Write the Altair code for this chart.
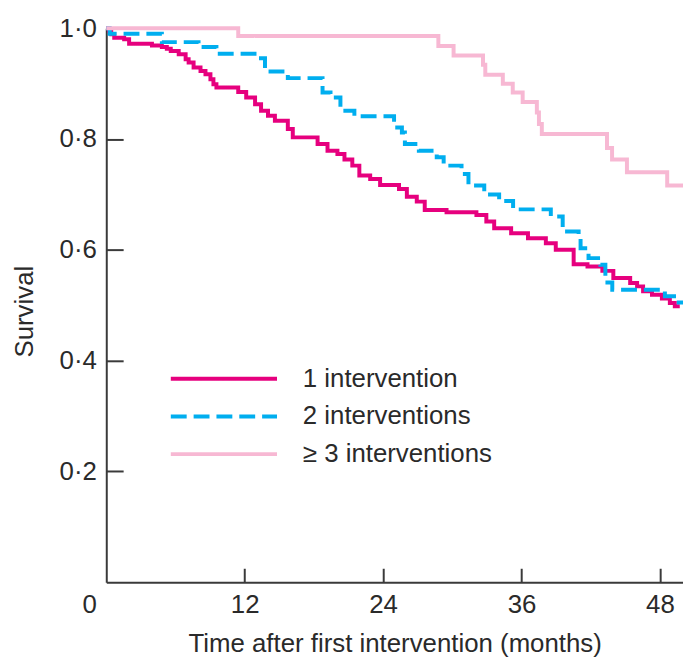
import altair as alt
import pandas as pd

groups = ["1 intervention", "2 interventions", "\u2265 3 interventions"]
colors = ["#E6007E", "#00AEEF", "#F7B8D3"]

# 1 intervention (Kaplan-Meier steps)
t1 = [0, 0.26, 0.43, 0.69, 1.55, 1.98, 3.96, 4.82, 5.25, 5.59, 6.28, 6.88, 7.14, 7.57,
      8.17, 8.60, 9.03, 9.29, 9.55, 11.44, 12.13, 12.90, 13.42, 14.02, 14.62, 15.74,
      16.17, 18.32, 19.18, 20.04, 20.65, 21.33, 21.94, 22.88, 23.74, 25.38, 26.06,
      26.92, 27.61, 29.5, 32.09, 32.95, 33.63, 35.10, 36.56, 38.11, 38.97, 40.52,
      41.72, 43.01, 43.96, 45.42, 46.02, 46.54, 47.31, 48.17, 48.86, 49.29, 49.72]
s1 = [1.0, 0.995, 0.989, 0.983, 0.980, 0.972, 0.969, 0.966, 0.963, 0.959, 0.953, 0.944,
      0.938, 0.929, 0.923, 0.917, 0.908, 0.899, 0.893, 0.885, 0.875, 0.863, 0.851,
      0.842, 0.833, 0.818, 0.803, 0.791, 0.779, 0.773, 0.763, 0.752, 0.734, 0.728,
      0.717, 0.710, 0.696, 0.687, 0.672, 0.668, 0.663, 0.651, 0.639, 0.630, 0.621,
      0.612, 0.600, 0.574, 0.570, 0.562, 0.549, 0.540, 0.534, 0.525, 0.519, 0.512,
      0.504, 0.498, 0.498]

# 2 interventions
t2 = [0, 0.3, 4.82, 8.0, 9.55, 13.16, 13.76, 15.74, 18.75, 19.44, 20.30, 21.51, 24.95,
      25.63, 25.89, 27.10, 28.65, 29.25, 30.80, 31.40, 32.77, 34.06, 35.27, 38.54,
      39.57, 40.95, 41.12, 41.81, 42.84, 43.27, 43.87, 48.43, 49.63, 50.0]
s2 = [1.0, 0.990, 0.975, 0.966, 0.954, 0.946, 0.922, 0.910, 0.884, 0.875, 0.851, 0.841,
      0.821, 0.812, 0.791, 0.779, 0.767, 0.752, 0.737, 0.716, 0.700, 0.688, 0.673,
      0.660, 0.633, 0.621, 0.603, 0.585, 0.573, 0.541, 0.528, 0.516, 0.505, 0.505]

# >= 3 interventions
t3 = [0, 11.44, 28.79, 30.11, 32.66, 32.86, 34.38, 35.24, 36.10, 37.33, 37.51, 37.76,
      43.41, 43.85, 45.14, 48.63, 50.0]
s3 = [1.0, 0.986, 0.968, 0.951, 0.934, 0.916, 0.900, 0.884, 0.867, 0.848, 0.827, 0.809,
      0.784, 0.763, 0.740, 0.716, 0.716]

x_ticks = [12, 24, 36, 48]
x_labels = [0, 12, 24, 36, 48]
y_ticks = [0.2, 0.4, 0.6, 0.8]
y_labels = [0.2, 0.4, 0.6, 0.8, 1.0]

rows = []
for g, ts, ss in zip(groups, [t1, t2, t3], [s1, s2, s3]):
    for t, s in zip(ts, ss):
        rows.append({"group": g, "t": t, "s": s})
df = pd.DataFrame(rows)

W, H = 581, 558
FONT = "Liberation Sans"
FS = 26
TXT = "#2a2a2a"
AX = "#3a3a3a"

xscale = alt.Scale(domain=[0, 50], nice=False, zero=False)
yscale = alt.Scale(domain=[0, 1], nice=False, zero=False)

lines = alt.Chart(df).mark_line(interpolate="step-after", clip=False, strokeCap="butt").encode(
    x=alt.X("t:Q", scale=xscale, axis=alt.Axis(
        values=x_labels, ticks=False, tickSize=0, grid=False,
        domainColor=AX, domainWidth=2,
        labelFont=FONT, labelFontSize=FS, labelColor=TXT, labelPadding=10,
        labelAlign={"condition": {"test": "datum.value == 0", "value": "right"}, "value": "center"},
        labelOffset={"condition": {"test": "datum.value == 0", "value": -10}, "value": 0},
        labelFlush=False, labelOverlap=False,
        title="Time after first intervention (months)", titleFont=FONT, titleFontSize=FS,
        titleFontWeight="normal", titleColor=TXT, titleBaseline="alphabetic", titleY=70)),
    y=alt.Y("s:Q", scale=yscale, axis=alt.Axis(
        values=y_labels, ticks=False, tickSize=0, grid=False,
        domainColor=AX, domainWidth=2,
        labelExpr="replace(format(datum.value, '.1f'), '.', '\u00b7')",
        labelFont=FONT, labelFontSize=FS, labelColor=TXT, labelPadding=10,
        labelFlush=False, labelOverlap=False,
        title="Survival", titleFont=FONT, titleFontSize=FS, titleFontWeight="normal",
        titleColor=TXT, titleBaseline="alphabetic", titleX=-74, titleY=285, titleAngle=-90)),
    color=alt.Color("group:N", scale=alt.Scale(domain=groups, range=colors), sort=groups, title=None),
    strokeDash=alt.StrokeDash("group:N", scale=alt.Scale(domain=groups, range=[[1, 0], [16, 7], [1, 0]]), sort=groups, title=None),
    strokeWidth=alt.StrokeWidth("group:N", scale=alt.Scale(domain=groups, range=[4, 4, 3]), sort=groups, title=None),
    order=alt.Order("z:Q"),
).transform_calculate(z="datum.group == '1 intervention' ? 3 : (datum.group == '2 interventions' ? 2 : 1)")

ticks_layer = alt.Chart(df).mark_point(opacity=0).encode(
    x=alt.X("t:Q", scale=xscale, axis=alt.Axis(
        orient="top", offset=-H, values=x_ticks, labels=False, domain=False, grid=False,
        ticks=True, tickSize=14, tickWidth=2, tickColor=AX, title=None)),
    y=alt.Y("s:Q", scale=yscale, axis=alt.Axis(
        orient="right", offset=-W, values=y_ticks, labels=False, domain=False, grid=False,
        ticks=True, tickSize=17, tickWidth=2, tickColor=AX, title=None)),
)

chart = alt.layer(lines, ticks_layer).resolve_axis(x="independent", y="independent").properties(
    width=W, height=H,
    autosize=alt.AutoSizeParams(type="none"),
    padding={"left": 99, "top": 18, "right": 0, "bottom": 76},
).configure_view(stroke=None).configure_legend(
    orient="none", legendX=63, legendY=338, symbolType="stroke", symbolSize=11449,
    labelFont=FONT, labelFontSize=FS, labelColor=TXT, labelOffset=24, rowPadding=8,
    clipHeight=30, symbolStrokeWidth=4, labelLimit=500,
)

chart.save("out.html", embed_options={"renderer": "svg", "actions": False})
